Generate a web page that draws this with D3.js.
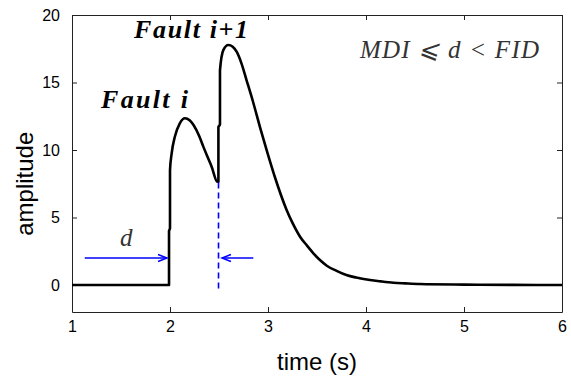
<!DOCTYPE html>
<html>
<head>
<meta charset="utf-8">
<script src="https://cdn.jsdelivr.net/npm/d3@7"></script>
<style>
  body { margin: 0; background: #fff; }
  .axis text { font-family: Arial, "Liberation Sans", sans-serif; font-size: 16px; fill: #000; }
</style>
</head>
<body>
<svg class="chart"></svg>
<script>
// signal
var time = [1, 1.99, 1.99, 2.0, 2.0, 2.017, 2.05, 2.1, 2.153, 2.2, 2.24, 2.3, 2.34, 2.4, 2.425, 2.483,
            2.494, 2.494, 2.51, 2.51, 2.544, 2.595, 2.64, 2.68, 2.73, 2.78, 2.85, 2.918, 2.99, 3.07,
            3.19, 3.25, 3.327, 3.4, 3.463, 3.53, 3.6, 3.7, 3.8, 3.9, 4.04, 4.15, 4.28, 4.4, 4.55, 5.0, 5.5, 6.0];
var amplitude = [0, 0, 4.0, 4.2, 8.5, 9.75, 11.0, 11.98, 12.35, 12.2, 11.85, 11.0, 10.25, 9.2, 8.76, 7.65,
                 7.65, 11.7, 11.9, 15.9, 17.4, 17.78, 17.65, 17.28, 16.4, 15.2, 13.5, 11.7, 9.9, 8.0,
                 5.56, 4.6, 3.58, 2.9, 2.35, 1.85, 1.43, 1.05, 0.74, 0.55, 0.37, 0.27, 0.17, 0.12, 0.07, 0.03, 0.01, 0];

var xTicks = [1, 2, 3, 4, 5, 6];
var yTicks = [0, 5, 10, 15, 20];

var faultTime = 2.495;        // dashed marker
var faultLevel = 7.65;
var arrowLevel = 2;
var arrowLeft = [1.13, 1.97];  // d arrow, pointing right
var arrowRight = [2.85, 2.53]; // pointing left

const canvas = {width: 571, height: 378};
const margin = {top: 15, left: 72, bottom: 66, right: 9};
const dims = {
    width: canvas.width - (margin.left + margin.right),
    height: canvas.height - (margin.top + margin.bottom)
};

const x = d3.scaleLinear().domain([1, 6]).range([0, dims.width]);
const y = d3.scaleLinear().domain([-2, 20]).range([dims.height, 0]);

const svg = d3.select(".chart")
    .attr("width", canvas.width)
    .attr("height", canvas.height);

svg.append("defs").append("marker")
    .attr("id", "arrow")
    .attr("viewBox", "0 -5 12 10")
    .attr("refX", 10).attr("refY", 0)
    .attr("markerWidth", 12).attr("markerHeight", 10)
    .attr("markerUnits", "userSpaceOnUse")
    .attr("orient", "auto")
    .append("path")
    .attr("d", "M1,-3.5L10,0L1,3.5")
    .attr("fill", "none")
    .attr("stroke", "#0000ff")
    .attr("stroke-width", 1.5);

const g = svg.append("g")
    .attr("transform", "translate(" + margin.left + "," + margin.top + ")");

// box with inside ticks on all four sides
g.append("g").attr("class", "axis")
    .attr("transform", "translate(0," + dims.height + ")")
    .call(d3.axisBottom(x).tickValues(xTicks).tickSizeInner(-5).tickSizeOuter(0).tickPadding(9).tickFormat(d3.format("d")));
g.append("g").attr("class", "axis")
    .call(d3.axisTop(x).tickValues(xTicks).tickSizeInner(-5).tickSizeOuter(0).tickFormat(""));
g.append("g").attr("class", "axis")
    .call(d3.axisLeft(y).tickValues(yTicks).tickSizeInner(-5).tickSizeOuter(0).tickPadding(12).tickFormat(d3.format("d")));
g.append("g").attr("class", "axis")
    .attr("transform", "translate(" + dims.width + ",0)")
    .call(d3.axisRight(y).tickValues(yTicks).tickSizeInner(-5).tickSizeOuter(0).tickFormat(""));
g.selectAll(".axis path, .axis line").attr("stroke", "#222").attr("stroke-width", 1);

const points = time.map((t, i) => [t, amplitude[i]]);
g.append("path")
    .datum(points)
    .attr("fill", "none")
    .attr("stroke", "#000")
    .attr("stroke-width", 2.6)
    .attr("stroke-linejoin", "round")
    .attr("d", d3.line().curve(d3.curveMonotoneX).x(d => x(d[0])).y(d => y(d[1])));

g.append("line")
    .attr("x1", x(faultTime)).attr("x2", x(faultTime))
    .attr("y1", y(-0.25)).attr("y2", y(faultLevel))
    .attr("stroke", "#0000ff")
    .attr("stroke-width", 1.6)
    .attr("stroke-dasharray", "6,4");

[arrowLeft, arrowRight].forEach(a => {
    g.append("line")
        .attr("x1", x(a[0])).attr("x2", x(a[1]))
        .attr("y1", y(arrowLevel)).attr("y2", y(arrowLevel))
        .attr("stroke", "#0000ff")
        .attr("stroke-width", 1.5)
        .attr("marker-end", "url(#arrow)");
});

const serif = "'Liberation Serif', 'Times New Roman', serif";

svg.append("text")
    .attr("x", 101).attr("y", 108)
    .attr("textLength", 87)
    .style("font-family", serif).style("font-size", "26px")
    .style("font-weight", "bold").style("font-style", "italic")
    .text("Fault  i");

svg.append("text")
    .attr("x", 134).attr("y", 38)
    .attr("textLength", 114)
    .style("font-family", serif).style("font-size", "26px")
    .style("font-weight", "bold").style("font-style", "italic")
    .text("Fault  i+1");

svg.append("text")
    .attr("x", 120).attr("y", 246)
    .style("font-family", serif).style("font-size", "25px")
    .style("font-style", "italic").style("fill", "#333")
    .text("d");

svg.append("text")
    .attr("x", 360).attr("y", 58)
    .attr("textLength", 179)
    .style("font-family", serif).style("font-size", "25px")
    .style("font-style", "italic").style("fill", "#333")
    .text("MDI \u2A7D d < FID");

svg.append("text")
    .attr("x", margin.left + dims.width / 2).attr("y", 370)
    .style("text-anchor", "middle")
    .style("font-family", "Arial, 'Liberation Sans', sans-serif").style("font-size", "24px")
    .text("time (s)");

svg.append("text")
    .attr("transform", "translate(33," + (margin.top + y(7.5)) + ") rotate(-90)")
    .style("text-anchor", "middle")
    .style("font-family", "Arial, 'Liberation Sans', sans-serif").style("font-size", "24px")
    .text("amplitude");
</script>
</body>
</html>
